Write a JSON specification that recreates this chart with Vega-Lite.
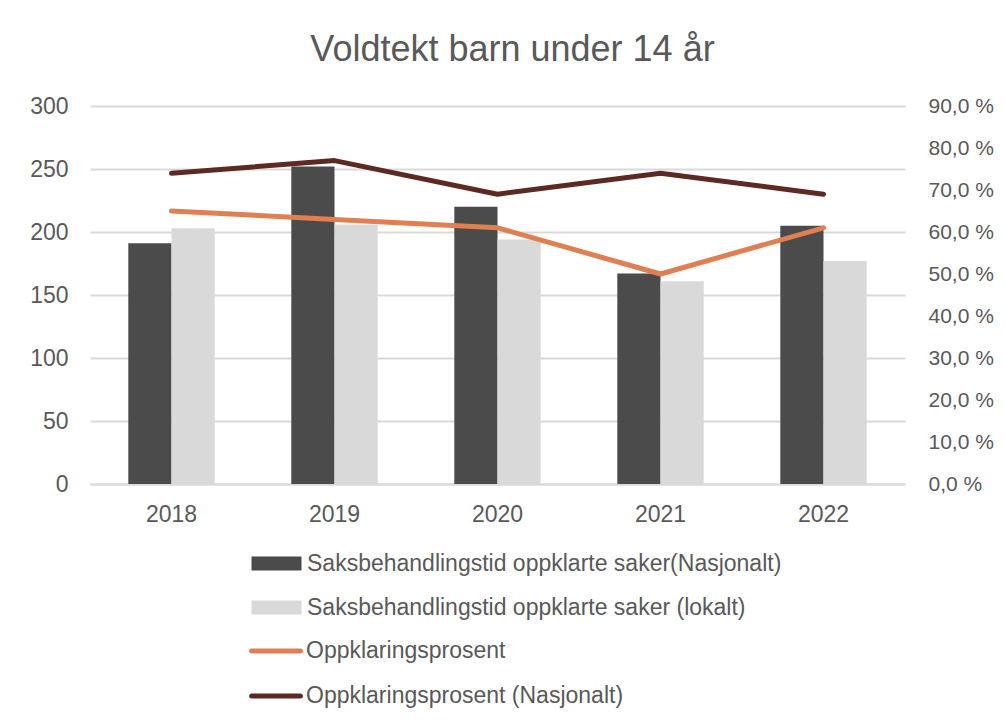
{
  "$schema": "https://vega.github.io/schema/vega-lite/v6.json",
  "width": 815,
  "height": 378,
  "autosize": {"type": "none"},
  "padding": {"left": 90, "top": 106, "right": 100, "bottom": 236},
  "background": "white",
  "config": {
    "font": "Liberation Sans",
    "view": {"stroke": null},
    "axis": {"labelColor": "#595959", "labelFont": "Liberation Sans", "labelFontSize": 23, "domain": false, "ticks": false}
  },
  "title": {
    "text": "Voldtekt barn under 14 år",
    "fontSize": 36,
    "font": "Liberation Sans",
    "fontWeight": "normal",
    "color": "#595959",
    "anchor": "middle",
    "dx": 15,
    "baseline": "alphabetic",
    "offset": -2
  },
  "datasets": {
    "bars": [
      {"year": "2018", "serie": "Saksbehandlingstid oppklarte saker(Nasjonalt)", "dager": 191},
      {"year": "2019", "serie": "Saksbehandlingstid oppklarte saker(Nasjonalt)", "dager": 252},
      {"year": "2020", "serie": "Saksbehandlingstid oppklarte saker(Nasjonalt)", "dager": 220},
      {"year": "2021", "serie": "Saksbehandlingstid oppklarte saker(Nasjonalt)", "dager": 167},
      {"year": "2022", "serie": "Saksbehandlingstid oppklarte saker(Nasjonalt)", "dager": 205},
      {"year": "2018", "serie": "Saksbehandlingstid oppklarte saker (lokalt)", "dager": 203},
      {"year": "2019", "serie": "Saksbehandlingstid oppklarte saker (lokalt)", "dager": 206},
      {"year": "2020", "serie": "Saksbehandlingstid oppklarte saker (lokalt)", "dager": 194},
      {"year": "2021", "serie": "Saksbehandlingstid oppklarte saker (lokalt)", "dager": 161},
      {"year": "2022", "serie": "Saksbehandlingstid oppklarte saker (lokalt)", "dager": 177}
    ],
    "lines": [
      {"year": "2018", "serie": "Oppklaringsprosent", "prosent": 65.0},
      {"year": "2019", "serie": "Oppklaringsprosent", "prosent": 63.0},
      {"year": "2020", "serie": "Oppklaringsprosent", "prosent": 61.0},
      {"year": "2021", "serie": "Oppklaringsprosent", "prosent": 50.0},
      {"year": "2022", "serie": "Oppklaringsprosent", "prosent": 61.0},
      {"year": "2018", "serie": "Oppklaringsprosent (Nasjonalt)", "prosent": 74.0},
      {"year": "2019", "serie": "Oppklaringsprosent (Nasjonalt)", "prosent": 77.0},
      {"year": "2020", "serie": "Oppklaringsprosent (Nasjonalt)", "prosent": 69.0},
      {"year": "2021", "serie": "Oppklaringsprosent (Nasjonalt)", "prosent": 74.0},
      {"year": "2022", "serie": "Oppklaringsprosent (Nasjonalt)", "prosent": 69.0}
    ]
  },
  "layer": [
    {
      "data": {"name": "bars"},
      "mark": {"type": "bar"},
      "encoding": {
        "x": {
          "field": "year",
          "type": "nominal",
          "scale": {"paddingInner": 0.47, "paddingOuter": 0.235},
          "axis": {"title": null, "labelAngle": 0, "labelPadding": 19, "grid": false, "domain": true, "domainColor": "#d9d9d9", "domainWidth": 2}
        },
        "xOffset": {
          "field": "serie",
          "sort": ["Saksbehandlingstid oppklarte saker(Nasjonalt)", "Saksbehandlingstid oppklarte saker (lokalt)"]
        },
        "y": {
          "field": "dager",
          "type": "quantitative",
          "scale": {"domain": [0, 300]},
          "axis": {"title": null, "values": [0, 50, 100, 150, 200, 250, 300], "grid": true, "gridColor": "#d9d9d9", "gridWidth": 2, "labelPadding": 22}
        },
        "fill": {
          "field": "serie",
          "type": "nominal",
          "scale": {
            "domain": ["Saksbehandlingstid oppklarte saker(Nasjonalt)", "Saksbehandlingstid oppklarte saker (lokalt)"],
            "range": ["#4b4b4b", "#d9d9d9"]
          },
          "legend": {
            "title": null,
            "orient": "none",
            "legendX": 174,
            "legendY": 445,
            "padding": 0,
            "symbolType": "M-2,-0.56H2V0.56H-2Z",
            "symbolSize": 625,
            "symbolStrokeWidth": 0,
            "labelOffset": 18,
            "labelFontSize": 23,
            "labelColor": "#595959",
            "labelLimit": 700,
            "rowPadding": 19
          }
        }
      }
    },
    {
      "data": {"name": "lines"},
      "mark": {"type": "line", "strokeWidth": 5, "strokeCap": "round", "strokeJoin": "round"},
      "encoding": {
        "x": {"field": "year", "type": "nominal"},
        "y": {
          "field": "prosent",
          "type": "quantitative",
          "scale": {"domain": [0, 90]},
          "axis": {
            "title": null,
            "orient": "right",
            "values": [0, 10, 20, 30, 40, 50, 60, 70, 80, 90],
            "grid": false,
            "labelPadding": 23,
            "labelFontSize": 21,
            "labelExpr": "replace(format(datum.value, '.1f'), '.', ',') + ' %'"
          }
        },
        "stroke": {
          "field": "serie",
          "type": "nominal",
          "scale": {
            "domain": ["Oppklaringsprosent", "Oppklaringsprosent (Nasjonalt)"],
            "range": ["#e07f52", "#5c2a22"]
          },
          "legend": {
            "title": null,
            "orient": "none",
            "legendX": 171,
            "legendY": 530,
            "padding": 0,
            "symbolType": "M-1.95,0H1.95",
            "symbolSize": 625,
            "symbolStrokeWidth": 5,
            "labelOffset": 15,
            "labelFontSize": 23,
            "labelColor": "#595959",
            "labelLimit": 700,
            "rowPadding": 18,
            "encode": {"symbols": {"update": {"strokeCap": {"value": "round"}}}}
          }
        }
      }
    }
  ],
  "resolve": {"scale": {"y": "independent", "fill": "independent", "stroke": "independent"}}
}
